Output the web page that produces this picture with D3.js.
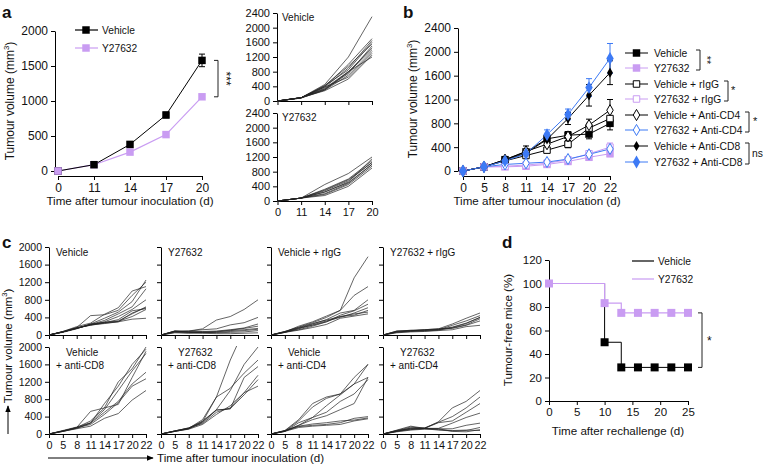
<!DOCTYPE html>
<html><head><meta charset="utf-8">
<script src="https://cdn.jsdelivr.net/npm/d3@7"></script>
<style>body{margin:0;background:#fff} svg{font-family:"Liberation Sans",Arial,Helvetica,sans-serif}</style>
</head><body>
<svg id="c" width="766" height="467"></svg>
<script>
// ---------- DATA ----------
const LILAC = "#c99cf2", BLUE = "#3d7af5";
// panel a (main)
const aDays = [0, 11, 14, 17, 20];
const aSeries = ["Vehicle", "Y27632"];
const aVehicle = [0, 90, 380, 800, 1580];
const aVehicleErr = [0, 10, 30, 40, 90];
const aY27632 = [0, 90, 270, 520, 1060];
const aY27632Err = [0, 10, 20, 25, 25];
const aYTicks = [0, 500, 1000, 1500, 2000];
// panel a individual mice
const aVehicleMice = [
  [0,90,450,1200,2300],[0,90,400,1000,1700],[0,90,380,900,1650],[0,90,420,850,1600],
  [0,90,350,800,1450],[0,90,330,780,1400],[0,90,300,700,1350],[0,90,380,650,1300],
  [0,90,320,750,1500],[0,90,280,600,1250],[0,80,420,950,1550],[0,80,300,800,1200]];
const aY27632Mice = [
  [0,80,450,750,1200],[0,80,320,600,1100],[0,80,280,550,1050],[0,80,250,500,1000],
  [0,80,200,480,1000],[0,80,180,450,950],[0,80,150,400,900],[0,80,240,520,1150],[0,80,300,580,1050]];
const spagTicks = [0, 400, 800, 1200, 1600, 2000, 2400];
// panel b
const bDays = [0, 5, 8, 11, 14, 17, 20, 22];
const bNames = ["Vehicle","Y27632","Vehicle + rIgG","Y27632 + rIgG","Vehicle + Anti-CD4","Y27632 + Anti-CD4","Vehicle + Anti-CD8","Y27632 + Anti-CD8"];
const bVehicle      = [0,70,190,320,540,600,620,800];
const bY27632       = [0,70,70,80,110,160,230,290];
const bVehicleIgG   = [0,70,170,260,350,450,720,880];
const bY27632IgG    = [0,70,80,100,130,190,290,400];
const bVehicleCD4   = [0,70,190,330,450,580,770,1020];
const bY27632CD4    = [0,70,110,130,150,200,280,370];
const bVehicleCD8   = [0,70,180,300,530,880,1270,1650];
const bY27632CD8    = [0,70,170,290,610,950,1400,1890];
const bErrVehicle    = [0,10,20,30,50,60,80,110];
const bErrY27632     = [0,10,10,15,20,30,40,50];
const bErrVehicleIgG = [0,10,20,30,40,60,80,120];
const bErrY27632IgG  = [0,10,15,20,30,40,50,70];
const bErrVehicleCD4 = [0,10,30,90,60,80,100,180];
const bErrY27632CD4  = [0,10,15,20,30,40,50,60];
const bErrVehicleCD8 = [0,10,30,40,70,100,180,200];
const bErrY27632CD8  = [0,10,30,40,80,90,150,250];
const bYTicks = [0, 400, 800, 1200, 1600, 2000, 2400];
// panel c
const cDays = [0, 5, 8, 11, 14, 17, 20, 22];
const cYTicks = [0, 400, 800, 1200, 1600, 2000];
const cTitles = [["Vehicle"],["Y27632"],["Vehicle + rIgG"],["Y27632 + rIgG"],
  ["Vehicle","+ anti-CD8"],["Y27632","+ anti-CD8"],["Vehicle","+ anti-CD4"],["Y27632","+ anti-CD4"]];
const cVehicle = [
  [0,80,170,440,460,560,900,1200],[0,80,190,270,470,620,1000,1100],[0,70,160,250,380,520,760,1250],
  [0,70,150,240,330,480,640,1050],[0,70,160,230,300,420,580,800],[0,70,150,240,290,320,480,640],
  [0,70,160,220,270,300,500,620],[0,70,150,230,280,310,420,580],[0,70,160,230,260,300,360,380],
  [0,60,140,250,280,350,550,600]];
const cY27632 = [
  [0,90,90,140,340,420,580,800],[0,80,90,120,140,230,280,400],[0,90,70,80,90,120,160,250],
  [0,80,80,70,80,110,150,200],[0,90,60,60,70,100,120,150],[0,70,60,50,60,80,100,130],
  [0,60,50,60,50,60,70,100],[0,50,40,40,30,30,40,50]];
const cVehicleIgG = [
  [0,80,180,280,400,560,1300,1780],[0,70,200,300,430,560,900,1100],[0,60,150,250,350,500,560,800],
  [0,70,160,220,300,450,550,700],[0,60,140,230,320,400,500,620],[0,70,120,200,300,420,450,560],
  [0,80,170,260,340,420,480,520],[0,60,110,170,240,380,430,480]];
const cY27632IgG = [
  [0,80,110,120,140,250,380,500],[0,90,100,110,120,220,320,440],[0,70,90,100,130,180,270,400],
  [0,60,80,90,110,160,230,370],[0,70,90,120,140,150,220,320],[0,50,70,80,100,120,190,220],
  [0,90,100,110,120,170,260,400]];
const cVehicleCD8 = [
  [0,70,150,520,600,1200,1500,2000],[0,60,140,250,700,1100,1600,1950],[0,80,160,260,560,1000,1450,1850],
  [0,70,150,300,600,680,1300,1900],[0,60,130,250,500,750,1150,1420],[0,70,140,220,450,720,1100,1270],
  [0,60,120,180,360,470,780,1000]];
const cY27632CD8 = [
  [0,70,130,330,850,1700,2400,2800],[0,60,120,280,560,1000,1600,2000],[0,70,140,280,850,1050,1400,1700],
  [0,60,120,260,550,580,1300,1550],[0,70,140,240,500,600,950,1350],[0,60,110,220,450,650,950,1100],
  [0,70,130,300,550,580,900,1250]];
const cVehicleCD4 = [
  [0,80,330,700,850,920,1300,1600],[0,70,300,620,820,920,1150,1300],[0,60,260,380,650,900,1150,1600],
  [0,70,200,380,500,750,920,1250],[0,60,200,330,420,560,700,1300],[0,70,170,200,220,260,360,400],
  [0,60,150,180,200,220,300,350],[0,80,180,230,260,300,320,370]];
const cY27632CD4 = [
  [0,90,180,130,280,600,750,1000],[0,80,130,140,270,400,600,850],[0,70,110,130,260,300,500,700],
  [0,60,140,130,130,250,380,480],[0,80,160,130,120,120,200,250],[0,70,120,120,90,70,80,150],
  [0,60,100,130,100,80,90,80],[0,50,90,110,120,60,50,100]];
// panel d
const dVehicleT = [0, 10, 10, 13, 13, 25];
const dVehicleV = [100, 100, 50, 50, 28.6, 28.6];
const dVehicleMarkT = [10, 13, 16, 19, 22, 25];
const dVehicleMarkV = [50, 28.6, 28.6, 28.6, 28.6, 28.6];
const dY27632T = [0, 10, 10, 13, 13, 25];
const dY27632V = [100, 100, 83.3, 83.3, 75, 75];
const dY27632MarkT = [0, 10, 13, 16, 19, 22, 25];
const dY27632MarkV = [100, 83.3, 75, 75, 75, 75, 75];
const dXTicks = [0, 5, 10, 15, 20, 25];
const dYTicks = [0, 20, 40, 60, 80, 100, 120];

// ---------- HELPERS ----------
const svg = d3.select("#c");
const fmt = d3.format("d");
function styleAxis(g, fs) {
  g.select(".domain").attr("stroke", "#000").attr("stroke-width", 1);
  g.selectAll(".tick line").attr("stroke", "#000");
  g.selectAll(".tick text").attr("font-size", fs).attr("fill", "#111").attr("font-family", '"Liberation Sans",Arial,sans-serif');
}
function yAxis(x, scale, ticks, fs, labels = true) {
  const ax = d3.axisLeft(scale).tickValues(ticks).tickSize(4).tickSizeOuter(0).tickPadding(3)
    .tickFormat(labels ? fmt : "");
  const g = svg.append("g").attr("transform", `translate(${x},0)`).call(ax);
  styleAxis(g, fs); return g;
}
function xAxis(y, scale, ticks, fs, labels = true) {
  const ax = d3.axisBottom(scale).tickSize(4).tickSizeOuter(0).tickPadding(3).tickFormat(labels ? fmt : "");
  if (ticks) ax.tickValues(ticks);
  const g = svg.append("g").attr("transform", `translate(0,${y})`).call(ax);
  styleAxis(g, fs); return g;
}
function text(x, y, s, o = {}) {
  return svg.append("text").attr("x", x).attr("y", y).attr("font-size", o.fs || 11.5)
    .attr("text-anchor", o.anchor || "start").attr("font-weight", o.bold ? "bold" : null)
    .attr("fill", o.fill || "#111").text(s);
}
function yTitle(x, y, fs) {
  const t = svg.append("text").attr("transform", `translate(${x},${y}) rotate(-90)`)
    .attr("text-anchor", "middle").attr("font-size", fs).attr("fill", "#111");
  t.append("tspan").text("Tumour volume (mm");
  t.append("tspan").text("3").attr("font-size", fs * 0.65).attr("dy", -fs * 0.4);
  t.append("tspan").text(")").attr("dy", fs * 0.4);
}
function sym(type, size, x, y, fill, stroke, sw = 1) {
  svg.append("path").attr("d", d3.symbol(type, size)()).attr("transform", `translate(${x},${y})`)
    .attr("fill", fill).attr("stroke", stroke || "none").attr("stroke-width", sw);
}
function errBars(xs, ys, errs, xsc, ysc, color) {
  xs.forEach((d, i) => {
    if (!errs[i]) return;
    const x = xsc(d), y1 = ysc(ys[i] - errs[i]), y2 = ysc(ys[i] + errs[i]);
    svg.append("line").attr("x1", x).attr("x2", x).attr("y1", y1).attr("y2", y2).attr("stroke", color).attr("stroke-width", 1);
    [y1, y2].forEach(yy => svg.append("line").attr("x1", x - 3).attr("x2", x + 3).attr("y1", yy).attr("y2", yy).attr("stroke", color).attr("stroke-width", 1));
  });
}
function bracket(x, y1, y2, w) {
  svg.append("path").attr("d", `M${x - w},${y1}H${x}V${y2}H${x - w}`).attr("fill", "none").attr("stroke", "#222").attr("stroke-width", 1);
}
function vStars(x, y, s, fs) {
  svg.append("text").attr("transform", `translate(${x},${y}) rotate(90)`)
    .attr("text-anchor", "middle").attr("font-size", fs).attr("fill", "#111").text(s);
}

// ---------- PANEL A ----------
text(2, 18, "a", { fs: 17, bold: true });
const xA = d3.scalePoint().domain(aDays).range([58, 202]);
const yA = d3.scaleLinear().domain([0, 2000]).range([171, 31]);
yAxis(55, yA, aYTicks, 12);
xAxis(176, xA, null, 12);
yTitle(14, 101, 12);
text(130, 205, "Time after tumour inoculation (d)", { fs: 11.6, anchor: "middle" });
const lineA = d3.line().x((d, i) => xA(aDays[i])).y(d => yA(d));
errBars(aDays, aVehicle, aVehicleErr, xA, yA, "#000");
errBars(aDays, aY27632, aY27632Err, xA, yA, LILAC);
svg.append("path").attr("d", lineA(aY27632)).attr("fill", "none").attr("stroke", LILAC).attr("stroke-width", 1.2);
svg.append("path").attr("d", lineA(aVehicle)).attr("fill", "none").attr("stroke", "#000").attr("stroke-width", 1);
aY27632.forEach((v, i) => sym(d3.symbolSquare, 56, xA(aDays[i]), yA(v), LILAC));
aVehicle.forEach((v, i) => sym(d3.symbolSquare, 56, xA(aDays[i]), yA(v), "#000"));
sym(d3.symbolSquare, 56, xA(0), yA(0), LILAC);
// legend a
[["#000", aSeries[0], 30], [LILAC, aSeries[1], 48]].forEach(([c, n, y]) => {
  svg.append("line").attr("x1", 75).attr("x2", 98).attr("y1", y).attr("y2", y).attr("stroke", c).attr("stroke-width", 1.2);
  sym(d3.symbolSquare, 56, 86, y, c);
  text(102, y + 4, n, { fs: 10.2 });
});
bracket(218, yA(1580), yA(1060), 4);
vStars(222, (yA(1580) + yA(1060)) / 2, "***", 12);

// ---------- PANEL A spaghetti ----------
const xS = d3.scalePoint().domain(aDays).range([277.5, 372]);
[[aVehicleMice, 101, "Vehicle"], [aY27632Mice, 201, "Y27632"]].forEach(([mice, y0, title], k) => {
  const yS = d3.scaleLinear().domain([0, 2400]).range([y0, y0 - 88]);
  yAxis(277, yS, spagTicks, 11);
  xAxis(y0, xS, null, 11, k === 1);
  const ln = d3.line().x((d, i) => xS(aDays[i])).y(d => yS(d));
  mice.forEach(m => svg.append("path").attr("d", ln(m)).attr("fill", "none").attr("stroke", "#222").attr("stroke-width", 0.7));
  text(282, y0 - 80, title, { fs: 10 });
});

// ---------- PANEL B ----------
text(403, 18, "b", { fs: 17, bold: true });
const xB = d3.scalePoint().domain(bDays).range([463, 610]);
const yB = d3.scaleLinear().domain([0, 2400]).range([171, 28]);
yAxis(458, yB, bYTicks, 12);
xAxis(176, xB, null, 12);
yTitle(417, 99, 12);
text(537, 205, "Time after tumour inoculation (d)", { fs: 11.6, anchor: "middle" });
const bSeries = [
  { v: bVehicle, e: bErrVehicle, c: "#000", sym: d3.symbolSquare, size: 56, fill: "#000" },
  { v: bY27632, e: bErrY27632, c: LILAC, sym: d3.symbolSquare, size: 56, fill: LILAC },
  { v: bVehicleIgG, e: bErrVehicleIgG, c: "#000", sym: d3.symbolSquare, size: 42, fill: "#fff" },
  { v: bY27632IgG, e: bErrY27632IgG, c: LILAC, sym: d3.symbolSquare, size: 42, fill: "#fff" },
  { v: bVehicleCD4, e: bErrVehicleCD4, c: "#000", sym: d3.symbolDiamond, size: 36, fill: "#fff" },
  { v: bY27632CD4, e: bErrY27632CD4, c: BLUE, sym: d3.symbolDiamond, size: 36, fill: "#fff" },
  { v: bVehicleCD8, e: bErrVehicleCD8, c: "#000", sym: d3.symbolDiamond, size: 30, fill: "#000" },
  { v: bY27632CD8, e: bErrY27632CD8, c: BLUE, sym: d3.symbolDiamond, size: 48, fill: BLUE }];
const lineB = d3.line().x((d, i) => xB(bDays[i])).y(d => yB(d));
bSeries.forEach(s => errBars(bDays, s.v, s.e, xB, yB, s.c));
bSeries.forEach(s => {
  svg.append("path").attr("d", lineB(s.v)).attr("fill", "none").attr("stroke", s.c).attr("stroke-width", 1);
});
bSeries.forEach(s => {
  s.v.forEach((v, i) => {
    const filled = s.fill !== "#fff";
    sym(s.sym, s.size, xB(bDays[i]), yB(v), s.fill, filled ? null : s.c, 1);
  });
});
const bLegY = [53, 68, 84, 99, 115, 130, 146, 162];
bSeries.forEach((s, i) => {
  const y = bLegY[i];
  svg.append("line").attr("x1", 625).attr("x2", 648).attr("y1", y).attr("y2", y).attr("stroke", s.c).attr("stroke-width", 1);
  const filled = s.fill !== "#fff";
  sym(s.sym, s.size, 636.5, y, s.fill, filled ? null : s.c, 1);
  text(654, y + 4, bNames[i], { fs: 10.3 });
});
bracket(700, 50, 70, 4);
vStars(703, 60, "**", 11);
bracket(728, 81, 101, 4);
text(731, 94, "*", { fs: 11 });
bracket(749, 112, 132, 4);
text(753, 125, "*", { fs: 11 });
bracket(749, 143, 164, 4);
text(752, 157, "ns", { fs: 10.3 });

// ---------- PANEL C ----------
text(2, 248, "c", { fs: 17, bold: true });
const cCols = [49, 161, 271, 383];
const cRows = [[335, 247], [434, 347]];
const cData = [cVehicle, cY27632, cVehicleIgG, cY27632IgG, cVehicleCD8, cY27632CD8, cVehicleCD4, cY27632CD4];
cData.forEach((mice, k) => {
  const r = Math.floor(k / 4), c = k % 4;
  const x0 = cCols[c], [y0, yTop] = cRows[r];
  const xC = d3.scalePoint().domain(cDays).range([x0, x0 + 97]);
  const yC = d3.scaleLinear().domain([0, 2000]).range([y0, yTop]);
  yAxis(x0, yC, cYTicks, 10.5, c === 0);
  xAxis(y0, xC, null, 10.8, r === 1);
  const id = "clip" + k;
  svg.append("clipPath").attr("id", id).append("rect").attr("x", x0).attr("y", yTop - 1).attr("width", 98).attr("height", y0 - yTop + 2);
  const ln = d3.line().x((d, i) => xC(cDays[i])).y(d => yC(d));
  const g = svg.append("g").attr("clip-path", `url(#${id})`);
  mice.forEach(m => g.append("path").attr("d", ln(m)).attr("fill", "none").attr("stroke", "#222").attr("stroke-width", 0.7));
  const t = cTitles[k];
  if (t.length === 1) text(x0 + 7, yTop + 9, t[0], { fs: 10 });
  else { text(x0 + 17, yTop + 9, t[0], { fs: 10 }); text(x0 + 7, yTop + 22, t[1], { fs: 10 }); }
});
yTitle(12, 346, 11.6);
// arrows
svg.append("defs").append("marker").attr("id", "ah").attr("viewBox", "0 0 10 10").attr("refX", 9).attr("refY", 5)
  .attr("markerWidth", 7).attr("markerHeight", 7).attr("orient", "auto")
  .append("path").attr("d", "M0,1L10,5L0,9Z").attr("fill", "#000");
svg.append("line").attr("x1", 8).attr("x2", 8).attr("y1", 434).attr("y2", 406).attr("stroke", "#000").attr("stroke-width", 1).attr("marker-end", "url(#ah)");
svg.append("line").attr("x1", 48).attr("x2", 153).attr("y1", 458).attr("y2", 458).attr("stroke", "#000").attr("stroke-width", 1).attr("marker-end", "url(#ah)");
text(157, 462, "Time after tumour inoculation (d)", { fs: 11.6 });

// ---------- PANEL D ----------
text(502, 248, "d", { fs: 17, bold: true });
const xD = d3.scaleLinear().domain([0, 25]).range([549, 688]);
const yD = d3.scaleLinear().domain([0, 120]).range([401, 260]);
yAxis(549, yD, dYTicks, 11.5);
xAxis(401, xD, dXTicks, 11.5);
svg.append("text").attr("transform", `translate(512,330) rotate(-90)`).attr("text-anchor", "middle")
  .attr("font-size", 11.6).attr("fill", "#111").text("Tumour-free mice (%)");
text(618, 435, "Time after rechallenge (d)", { fs: 11.6, anchor: "middle" });
const lineD = d3.line().x(d => xD(d[0])).y(d => yD(d[1]));
svg.append("path").attr("d", lineD(dVehicleT.map((t, i) => [t, dVehicleV[i]]))).attr("fill", "none").attr("stroke", "#000").attr("stroke-width", 1);
svg.append("path").attr("d", lineD(dY27632T.map((t, i) => [t, dY27632V[i]]))).attr("fill", "none").attr("stroke", LILAC).attr("stroke-width", 1.2);
dVehicleMarkT.forEach((t, i) => sym(d3.symbolSquare, 64, xD(t), yD(dVehicleMarkV[i]), "#000"));
dY27632MarkT.forEach((t, i) => sym(d3.symbolSquare, 64, xD(t), yD(dY27632MarkV[i]), LILAC));
[["#000", "Vehicle", 261], [LILAC, "Y27632", 279]].forEach(([c, n, y]) => {
  svg.append("line").attr("x1", 632).attr("x2", 654).attr("y1", y).attr("y2", y).attr("stroke", c).attr("stroke-width", 1.2);
  text(658, y + 4, n, { fs: 10.2 });
});
bracket(702, yD(75), yD(28.6), 4);
text(707, 345, "*", { fs: 12 });
</script>
</body></html>
